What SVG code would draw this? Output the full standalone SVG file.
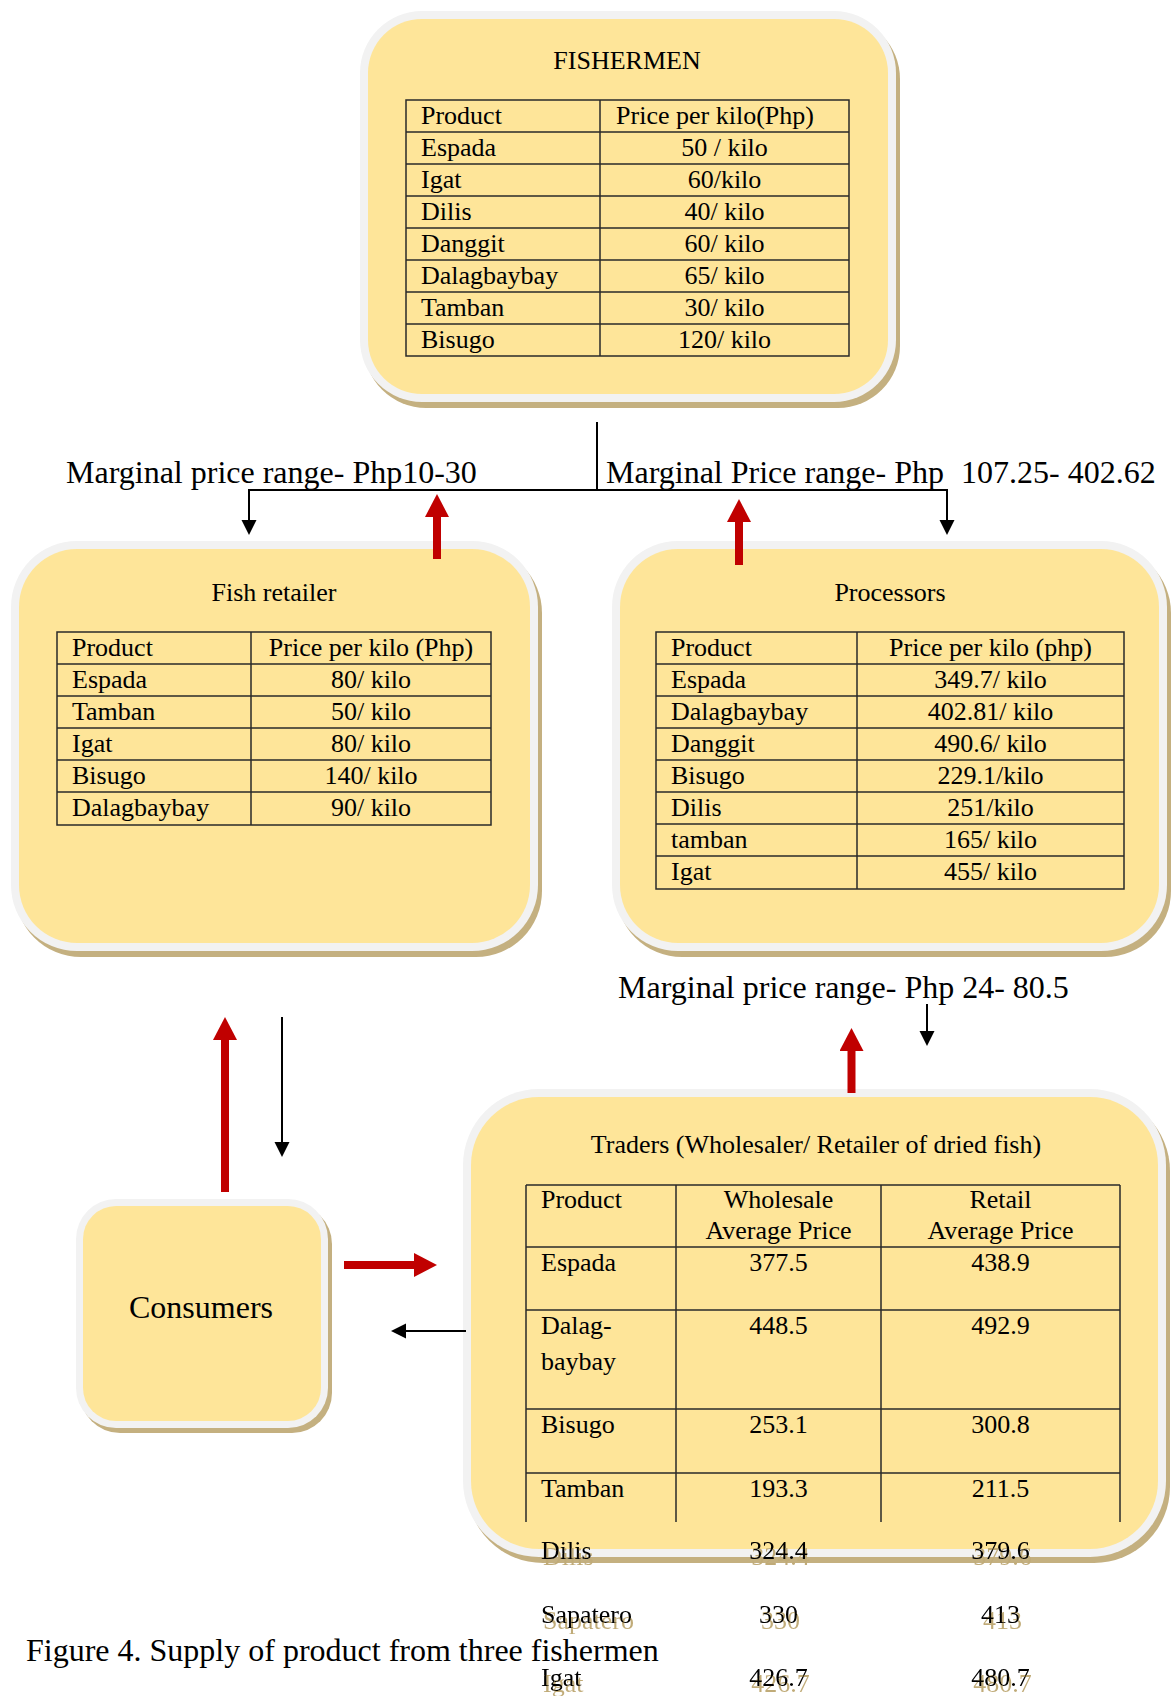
<svg xmlns="http://www.w3.org/2000/svg" width="1173" height="1696" viewBox="0 0 1173 1696">
<style>
.sh{fill:#c4b080}
.ring{fill:#f2f2f2}
.in{fill:#fee599}
.tl{stroke:#2a2a2a;stroke-width:1.5;fill:none}
text{font-family:"Liberation Serif","Times New Roman",serif;fill:#000}
.t26{font-size:26px}
.t32{font-size:32px}
.c{text-anchor:middle}
.blk{stroke:#000;stroke-width:2;fill:none}
.red{stroke:#c00000;stroke-width:8;fill:none}
</style>
<defs>
<marker id="ab" markerUnits="userSpaceOnUse" viewBox="0 -8 15 16" refX="0" refY="0" markerWidth="15" markerHeight="16" orient="auto"><path d="M0,-7.5 L15,0 L0,7.5Z" fill="#000"/></marker>
<marker id="ar" markerUnits="userSpaceOnUse" viewBox="0 -12 23 24" refX="0" refY="0" markerWidth="23" markerHeight="24" orient="auto"><path d="M0,-12 L23,0 L0,12Z" fill="#c00000"/></marker>
<filter id="tsh" x="-10%" y="-20%" width="130%" height="180%">
<feOffset in="SourceAlpha" dx="2" dy="6" result="o"/>
<feFlood flood-color="#c0ab78"/>
<feComposite in2="o" operator="in" result="s"/>
<feMerge><feMergeNode in="s"/><feMergeNode in="SourceGraphic"/></feMerge>
</filter>
</defs>
<rect width="1173" height="1696" fill="#fff"/>

<g id="fishermen">
<rect class="sh" x="364" y="17" width="536" height="391" rx="62"/>
<rect class="ring" x="360" y="11" width="536" height="391" rx="62"/>
<rect class="in" x="368" y="19" width="520" height="375" rx="54"/>
<text class="t26 c" x="627" y="69">FISHERMEN</text>
<path class="tl" d="M406,100H849V356H406Z M600,100V356 M406,132H849 M406,164H849 M406,196H849 M406,228H849 M406,260H849 M406,292H849 M406,324H849"/>
<g class="t26">
<text x="421" y="124">Product</text><text class="c" x="715" y="124">Price per kilo(Php)</text>
<text x="421" y="156">Espada</text><text class="c" x="724.5" y="156">50 / kilo</text>
<text x="421" y="188">Igat</text><text class="c" x="724.5" y="188">60/kilo</text>
<text x="421" y="220">Dilis</text><text class="c" x="724.5" y="220">40/ kilo</text>
<text x="421" y="252">Danggit</text><text class="c" x="724.5" y="252">60/ kilo</text>
<text x="421" y="284">Dalagbaybay</text><text class="c" x="724.5" y="284">65/ kilo</text>
<text x="421" y="316">Tamban</text><text class="c" x="724.5" y="316">30/ kilo</text>
<text x="421" y="348">Bisugo</text><text class="c" x="724.5" y="348">120/ kilo</text>
</g>
</g>

<g id="fish-retailer">
<rect class="sh" x="15" y="547" width="527" height="410" rx="66"/>
<rect class="ring" x="11" y="541" width="527" height="410" rx="66"/>
<rect class="in" x="19" y="549" width="511" height="394" rx="58"/>
<text class="t26 c" x="274" y="601">Fish retailer</text>
<path class="tl" d="M57,632H491V825H57Z M251,632V825 M57,664H491 M57,696H491 M57,728H491 M57,760H491 M57,792H491"/>
<g class="t26">
<text x="72" y="656">Product</text><text class="c" x="371" y="656">Price per kilo (Php)</text>
<text x="72" y="688">Espada</text><text class="c" x="371" y="688">80/ kilo</text>
<text x="72" y="720">Tamban</text><text class="c" x="371" y="720">50/ kilo</text>
<text x="72" y="752">Igat</text><text class="c" x="371" y="752">80/ kilo</text>
<text x="72" y="784">Bisugo</text><text class="c" x="371" y="784">140/ kilo</text>
<text x="72" y="816">Dalagbaybay</text><text class="c" x="371" y="816">90/ kilo</text>
</g>
</g>

<g id="processors">
<rect class="sh" x="616" y="547" width="555" height="410" rx="66"/>
<rect class="ring" x="612" y="541" width="555" height="410" rx="66"/>
<rect class="in" x="620" y="549" width="539" height="394" rx="58"/>
<text class="t26 c" x="890" y="601">Processors</text>
<path class="tl" d="M656,632H1124V889H656Z M857,632V889 M656,664H1124 M656,696H1124 M656,728H1124 M656,760H1124 M656,792H1124 M656,824H1124 M656,856H1124"/>
<g class="t26">
<text x="671" y="656">Product</text><text class="c" x="990.5" y="656">Price per kilo (php)</text>
<text x="671" y="688">Espada</text><text class="c" x="990.5" y="688">349.7/ kilo</text>
<text x="671" y="720">Dalagbaybay</text><text class="c" x="990.5" y="720">402.81/ kilo</text>
<text x="671" y="752">Danggit</text><text class="c" x="990.5" y="752">490.6/ kilo</text>
<text x="671" y="784">Bisugo</text><text class="c" x="990.5" y="784">229.1/kilo</text>
<text x="671" y="816">Dilis</text><text class="c" x="990.5" y="816">251/kilo</text>
<text x="671" y="848">tamban</text><text class="c" x="990.5" y="848">165/ kilo</text>
<text x="671" y="880">Igat</text><text class="c" x="990.5" y="880">455/ kilo</text>
</g>
</g>

<g id="consumers">
<rect class="sh" x="80" y="1204" width="252" height="229" rx="40"/>
<rect class="ring" x="76" y="1199" width="252" height="229" rx="40"/>
<rect class="in" x="83" y="1206" width="238" height="215" rx="33"/>
<text class="t32 c" x="201" y="1318">Consumers</text>
</g>

<g id="traders">
<rect class="sh" x="467" y="1095" width="703" height="468" rx="76"/>
<rect class="ring" x="463" y="1089" width="703" height="468" rx="76"/>
<rect class="in" x="471" y="1097" width="687" height="452" rx="68"/>
<text class="t26 c" x="816" y="1153">Traders (Wholesaler/ Retailer of dried fish)</text>
<path class="tl" d="M526,1185H1120 M526,1247H1120 M526,1310H1120 M526,1409H1120 M526,1473H1120 M526,1185V1522 M676,1185V1522 M881,1185V1522 M1120,1185V1522"/>
<g class="t26">
<text x="541" y="1208">Product</text>
<text class="c" x="778.5" y="1208">Wholesale</text><text class="c" x="778.5" y="1239">Average Price</text>
<text class="c" x="1000.5" y="1208">Retail</text><text class="c" x="1000.5" y="1239">Average Price</text>
<text x="541" y="1271">Espada</text><text class="c" x="778.5" y="1271">377.5</text><text class="c" x="1000.5" y="1271">438.9</text>
<text x="541" y="1334">Dalag-</text><text x="541" y="1370">baybay</text><text class="c" x="778.5" y="1334">448.5</text><text class="c" x="1000.5" y="1334">492.9</text>
<text x="541" y="1433">Bisugo</text><text class="c" x="778.5" y="1433">253.1</text><text class="c" x="1000.5" y="1433">300.8</text>
<text x="541" y="1497">Tamban</text><text class="c" x="778.5" y="1497">193.3</text><text class="c" x="1000.5" y="1497">211.5</text>
<g filter="url(#tsh)">
<text x="541" y="1559">Dilis</text><text class="c" x="778.5" y="1559">324.4</text><text class="c" x="1000.5" y="1559">379.6</text>
<text x="541" y="1623">Sapatero</text><text class="c" x="778.5" y="1623">330</text><text class="c" x="1000.5" y="1623">413</text>
<text x="541" y="1686">Igat</text><text class="c" x="778.5" y="1686">426.7</text><text class="c" x="1000.5" y="1686">480.7</text>
</g>
</g>
</g>

<g id="labels" class="t32">
<text x="66" y="483">Marginal price range- Php10-30</text>
<text x="606" y="483">Marginal Price range- Php<tspan x="961">107.25- 402.62</tspan></text>
<text x="618" y="998">Marginal price range- Php 24- 80.5</text>
<text x="26" y="1661">Figure 4. Supply of product from three fishermen</text>
</g>

<g id="connectors">
<path class="blk" d="M597,422V490H249V520" marker-end="url(#ab)"/>
<path class="blk" d="M597,490H947V520" marker-end="url(#ab)"/>
<path class="red" d="M437,559V517" marker-end="url(#ar)"/>
<path class="red" d="M739,565V522" marker-end="url(#ar)"/>
<path class="blk" d="M927,1004V1031" marker-end="url(#ab)"/>
<path class="red" d="M851.5,1093V1051" marker-end="url(#ar)"/>
<path class="red" d="M225,1192V1040" marker-end="url(#ar)"/>
<path class="blk" d="M282,1017V1142" marker-end="url(#ab)"/>
<path class="red" d="M344,1265H414" marker-end="url(#ar)"/>
<path class="blk" d="M466,1331H406" marker-end="url(#ab)"/>
</g>
</svg>
